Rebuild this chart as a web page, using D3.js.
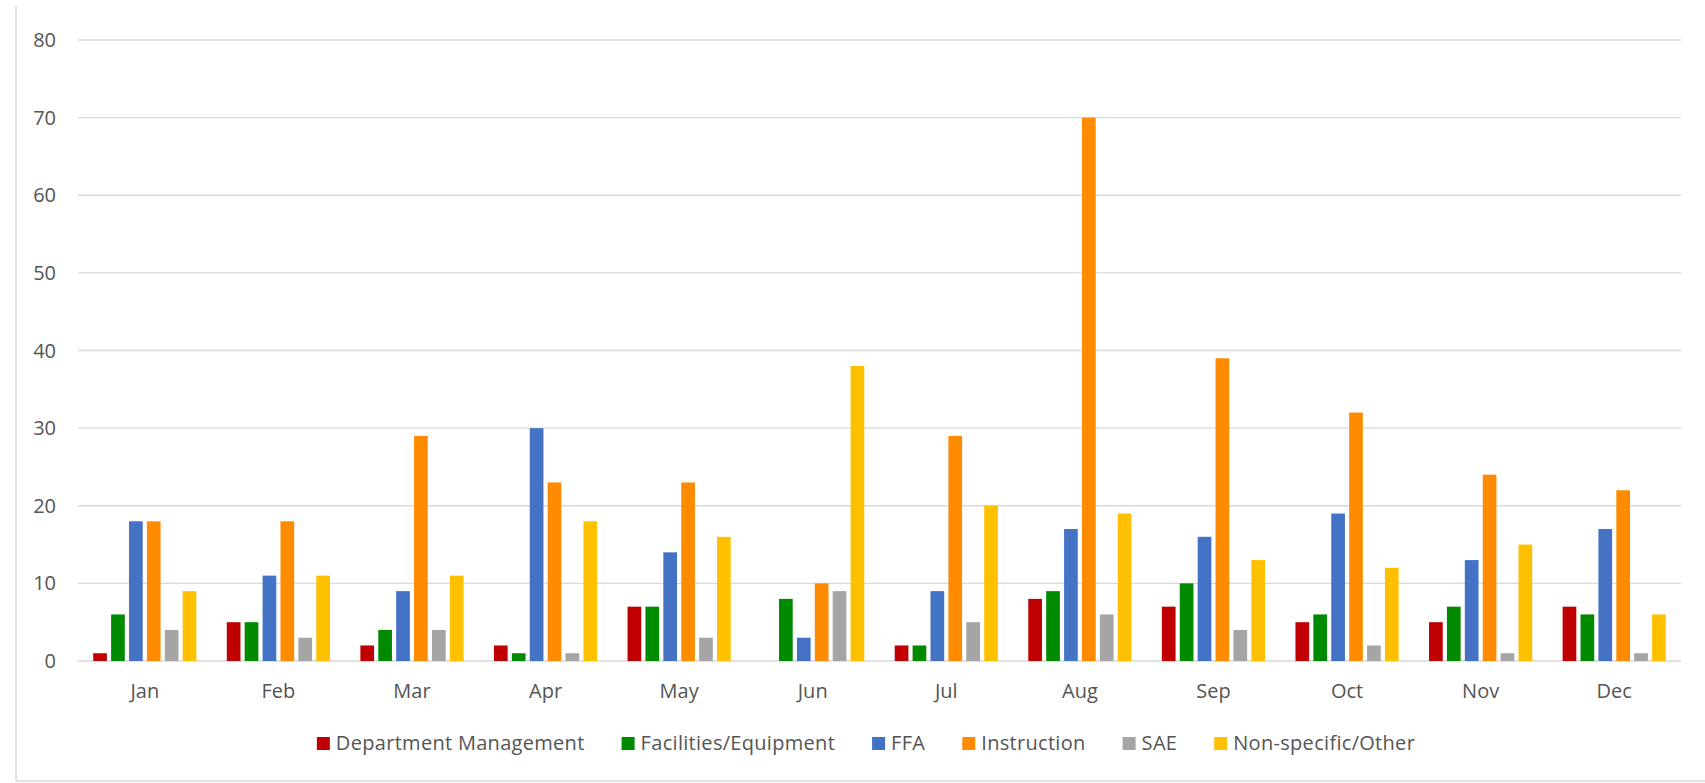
<!DOCTYPE html>
<html>
<head>
<meta charset="utf-8">
<script src="https://cdn.jsdelivr.net/npm/d3@7"></script>
<style>
  html, body { margin: 0; padding: 0; background: #fff; }
  svg { display: block; }
  text { font-family: "Open Sans", sans-serif; fill: #555; }
</style>
</head>
<body>
<div id="chart"></div>
<script>
const months = ["Jan", "Feb", "Mar", "Apr", "May", "Jun", "Jul", "Aug", "Sep", "Oct", "Nov", "Dec"];
const seriesNames = ["Department Management", "Facilities/Equipment", "FFA", "Instruction", "SAE", "Non-specific/Other"];
const seriesColors = ["#c00000", "#008a00", "#4472c4", "#ff8c00", "#a5a5a5", "#ffc000"];

const deptManagement = [1, 5, 2, 2, 7, 0, 2, 8, 7, 5, 5, 7];
const facilities     = [6, 5, 4, 1, 7, 8, 2, 9, 10, 6, 7, 6];
const ffa            = [18, 11, 9, 30, 14, 3, 9, 17, 16, 19, 13, 17];
const instruction    = [18, 18, 29, 23, 23, 10, 29, 70, 39, 32, 24, 22];
const sae            = [4, 3, 4, 1, 3, 9, 5, 6, 4, 2, 1, 1];
const otherVals      = [9, 11, 11, 18, 16, 38, 20, 19, 13, 12, 15, 6];

const yTicks = [0, 10, 20, 30, 40, 50, 60, 70, 80];

const seriesValues = [deptManagement, facilities, ffa, instruction, sae, otherVals];

const width = 1705;
const height = 783;
const margin = { top: 40, right: 24, bottom: 122, left: 78 };

const svg = d3.select("#chart")
  .append("svg")
  .attr("width", width)
  .attr("height", height);

// chart frame (left + bottom edges visible)
svg.append("line")
  .attr("x1", 16).attr("x2", 16)
  .attr("y1", 6).attr("y2", 781)
  .attr("stroke", "#d9d9d9").attr("stroke-width", 1.5);
svg.append("line")
  .attr("x1", 16).attr("x2", width)
  .attr("y1", 781).attr("y2", 781)
  .attr("stroke", "#d9d9d9").attr("stroke-width", 1.5);

const x0 = d3.scaleBand()
  .domain(months)
  .range([margin.left, width - margin.right])
  .padding(0);

const x1 = d3.scaleBand()
  .domain(seriesNames)
  .range([0, x0.bandwidth()])
  .paddingInner(0.235)
  .paddingOuter(0.85);

const y = d3.scaleLinear()
  .domain([0, 80])
  .range([height - margin.bottom, margin.top]);

// gridlines
svg.append("g")
  .selectAll("line")
  .data(yTicks)
  .join("line")
  .attr("x1", margin.left)
  .attr("x2", width - margin.right)
  .attr("y1", d => y(d))
  .attr("y2", d => y(d))
  .attr("stroke", "#d9d9d9")
  .attr("stroke-width", 1.3);

// y labels
svg.append("g")
  .selectAll("text")
  .data(yTicks)
  .join("text")
  .attr("x", 56)
  .attr("y", d => y(d) + 7)
  .attr("text-anchor", "end")
  .style("font-size", "20px")
  .text(d => d);

// bars
const groups = svg.append("g")
  .selectAll("g")
  .data(months)
  .join("g")
  .attr("transform", d => `translate(${x0(d)},0)`);

groups.selectAll("rect")
  .data((m, i) => seriesNames.map((s, k) => ({ series: s, value: seriesValues[k][i], color: seriesColors[k] })))
  .join("rect")
  .attr("x", d => x1(d.series))
  .attr("width", x1.bandwidth())
  .attr("y", d => y(d.value))
  .attr("height", d => y(0) - y(d.value))
  .attr("fill", d => d.color);

// month labels
svg.append("g")
  .selectAll("text")
  .data(months)
  .join("text")
  .attr("x", d => x0(d) + x0.bandwidth() / 2)
  .attr("y", 698)
  .attr("text-anchor", "middle")
  .style("font-size", "20px")
  .text(d => d);

// legend
const legend = svg.append("g");
const items = legend.selectAll("g")
  .data(seriesNames)
  .join("g");

items.append("rect")
  .attr("width", 13)
  .attr("height", 13)
  .attr("y", 737)
  .attr("fill", (d, i) => seriesColors[i]);

items.append("text")
  .attr("x", 19)
  .attr("y", 750)
  .style("font-size", "20px")
  .style("letter-spacing", "0.3px")
  .text(d => d);

let cursor = 0;
const offsets = [];
items.each(function () {
  offsets.push(cursor);
  const w = d3.select(this).select("text").node().getComputedTextLength();
  cursor += 19 + w + 37;
});
const legendWidth = cursor - 37;
const legendStart = 866 - legendWidth / 2;
items.attr("transform", (d, i) => `translate(${legendStart + offsets[i]},0)`);
</script>
</body>
</html>
